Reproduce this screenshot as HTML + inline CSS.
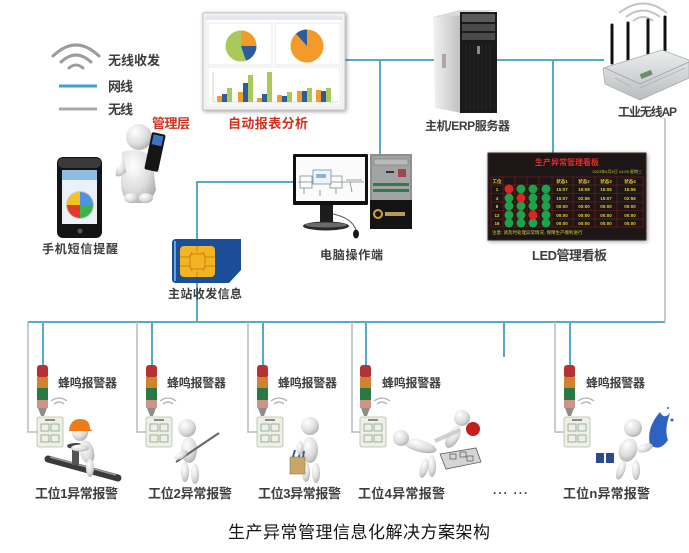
<!DOCTYPE html>
<html><head><meta charset="utf-8"><style>
html,body{margin:0;padding:0;background:#fff;}
svg{display:block;}
.t{font-family:"Liberation Sans","Noto Sans CJK SC",sans-serif;font-weight:700;fill:#3d3d3d;}
.r{fill:#d2301e;}
</style></head><body>
<svg width="689" height="553" viewBox="0 0 689 553" xmlns="http://www.w3.org/2000/svg">
<defs>
<radialGradient id="fg" cx="0.35" cy="0.3" r="0.8"><stop offset="0" stop-color="#ffffff"/><stop offset="0.6" stop-color="#dcdcdc"/><stop offset="1" stop-color="#a9a9a9"/></radialGradient>
<linearGradient id="side" x1="0" y1="0" x2="1" y2="0"><stop offset="0" stop-color="#f2f2f2"/><stop offset="1" stop-color="#bdbdbd"/></linearGradient>
<linearGradient id="apg" x1="0" y1="0" x2="0" y2="1"><stop offset="0" stop-color="#eceeee"/><stop offset="1" stop-color="#b9bdbd"/></linearGradient>
<filter id="sh" x="-10%" y="-10%" width="130%" height="130%"><feGaussianBlur in="SourceAlpha" stdDeviation="2"/><feOffset dx="1" dy="1"/><feComponentTransfer><feFuncA type="linear" slope="0.4"/></feComponentTransfer><feMerge><feMergeNode/><feMergeNode in="SourceGraphic"/></feMerge></filter>
</defs>
<rect width="689" height="553" fill="#fff"/>

<!-- ===== Network lines ===== -->
<g stroke="#55a9c9" stroke-width="2" fill="none">
<line x1="345" y1="60" x2="436" y2="60"/>
<line x1="497" y1="60" x2="604" y2="60"/>
<line x1="380" y1="60" x2="380" y2="154"/>
<line x1="553" y1="60" x2="553" y2="153"/>
<polyline points="293,182 197,182 197,240"/>
<line x1="197" y1="283" x2="197" y2="322"/>
<line x1="28" y1="322" x2="665" y2="322"/>
<line x1="43" y1="322" x2="43" y2="365"/>
<line x1="152" y1="322" x2="152" y2="365"/>
<line x1="263" y1="322" x2="263" y2="365"/>
<line x1="366" y1="322" x2="366" y2="365"/>
<line x1="504" y1="322" x2="504" y2="357"/>
<line x1="570" y1="322" x2="570" y2="365"/>
</g>
<g stroke="#b4bcc0" stroke-width="1.5" fill="none">
<line x1="665" y1="118" x2="665" y2="322"/>
<polyline points="28,322 28,432 37,432"/>
<polyline points="137,322 137,432 146,432"/>
<polyline points="248,322 248,432 257,432"/>
<polyline points="352,322 352,432 360,432"/>
<polyline points="555,322 555,432 564,432"/>
</g>

<!-- ===== Legend ===== -->
<g stroke="#9c9c9c" stroke-width="3" fill="none" stroke-linecap="round">
<path d="M53,56 Q76,34 99,56"/>
<path d="M61,62 Q76,48 91,62"/>
<path d="M69,68 Q76,62 83,68"/>
</g>
<text class="t" x="108" y="65" font-size="13" textLength="52">无线收发</text>
<line x1="59" y1="86" x2="97" y2="86" stroke="#3ea2cc" stroke-width="3"/>
<text class="t" x="108" y="91" font-size="13" textLength="25">网线</text>
<line x1="59" y1="109" x2="97" y2="109" stroke="#a8a8a8" stroke-width="3"/>
<text class="t" x="108" y="114" font-size="13" textLength="25">无线</text>

<!-- ===== Chart screenshot ===== -->
<g filter="url(#sh)">
<rect x="203" y="13" width="142" height="97" fill="#f3f4f4" stroke="#c4c4c4"/>
</g>
<rect x="206" y="16" width="136" height="91" fill="#fff" stroke="#d8d8d8" stroke-width="0.5"/>
<rect x="206" y="16" width="136" height="4" fill="#e4e8ee"/>
<rect x="208" y="23" width="64" height="42" fill="#fff" stroke="#ddd" stroke-width="0.6"/>
<rect x="275" y="23" width="65" height="42" fill="#fff" stroke="#ddd" stroke-width="0.6"/>
<rect x="208" y="67" width="132" height="38" fill="#fff" stroke="#ddd" stroke-width="0.6"/>
<!-- pie1 -->
<circle cx="241" cy="46" r="15.5" fill="#abc95a"/>
<path d="M241,46 L241,30.5 A15.5,15.5 0 0 1 256.5,46 Z" fill="#f39a2a"/>
<path d="M241,46 L256.5,46 A15.5,15.5 0 0 1 246,60.7 Z" fill="#2c5b9e"/>
<!-- pie2 -->
<circle cx="307" cy="46" r="16.5" fill="#f39a2a"/>
<path d="M307,46 L296,33.7 A16.5,16.5 0 0 1 307,29.5 Z" fill="#2c5b9e"/>
<!-- bars -->
<g>
<line x1="213" y1="102" x2="338" y2="102" stroke="#bbb" stroke-width="0.6"/>
<line x1="213" y1="72" x2="213" y2="102" stroke="#bbb" stroke-width="0.6"/>
<rect x="217" y="96" width="5" height="6" fill="#f39a2a"/><rect x="222" y="94" width="5" height="8" fill="#2c5b9e"/><rect x="227" y="88" width="5" height="14" fill="#abc95a"/>
<rect x="238" y="92" width="5" height="10" fill="#f39a2a"/><rect x="243" y="83" width="5" height="19" fill="#2c5b9e"/><rect x="248" y="75" width="5" height="27" fill="#abc95a"/>
<rect x="257" y="98" width="5" height="4" fill="#f39a2a"/><rect x="262" y="94" width="5" height="8" fill="#2c5b9e"/><rect x="267" y="72" width="5" height="30" fill="#abc95a"/>
<rect x="277" y="95" width="5" height="7" fill="#f39a2a"/><rect x="282" y="96" width="5" height="6" fill="#2c5b9e"/><rect x="287" y="92" width="5" height="10" fill="#abc95a"/>
<rect x="297" y="91" width="5" height="11" fill="#f39a2a"/><rect x="302" y="91" width="5" height="11" fill="#2c5b9e"/><rect x="307" y="88" width="5" height="14" fill="#abc95a"/>
<rect x="316" y="90" width="5" height="12" fill="#f39a2a"/><rect x="321" y="91" width="5" height="11" fill="#2c5b9e"/><rect x="326" y="88" width="5" height="14" fill="#abc95a"/>
</g>
<text class="t r" x="228" y="128" font-size="13" textLength="80">自动报表分析</text>

<!-- ===== Manager person ===== -->
<path d="M122,152 Q140,146 152,158 L156,190 Q150,204 140,203 L130,203 Q120,196 121,180 Z" fill="url(#fg)"/>
<path d="M124,160 Q114,168 116,176 Q120,178 126,172 Z" fill="url(#fg)"/>
<ellipse cx="131" cy="198" rx="7" ry="5" fill="url(#fg)"/>
<ellipse cx="146" cy="198" rx="7" ry="5" fill="url(#fg)"/>
<circle cx="139" cy="137" r="13" fill="url(#fg)"/>
<g transform="rotate(12 155 152)">
<rect x="148" y="133" width="14" height="38" rx="2" fill="#151515"/>
<rect x="150" y="135" width="10" height="10" fill="#3b74c4"/>
</g>
<text class="t r" x="152" y="128" font-size="13" textLength="38">管理层</text>

<!-- ===== Mobile phone ===== -->
<rect x="57" y="157" width="45" height="81" rx="6" fill="#141414"/>
<rect x="58" y="158" width="43" height="10" rx="5" fill="#3a3a3a"/>
<rect x="62" y="170" width="35" height="54" fill="#eaf2f8"/>
<rect x="62" y="170" width="35" height="10" fill="#8fbde0"/>
<circle cx="80" cy="205" r="14" fill="#c9c9c9"/>
<path d="M80,205 L80,192 A13,13 0 0 0 67,205 Z" fill="#f1c51e"/>
<path d="M80,205 L80,192 A13,13 0 0 1 93,205 Z" fill="#4f94df"/>
<path d="M80,205 L67,205 A13,13 0 0 0 80,218 Z" fill="#e23a2c"/>
<path d="M80,205 L93,205 A13,13 0 0 1 80,218 Z" fill="#3cb34b"/>
<circle cx="80" cy="231" r="2.5" fill="#555"/>
<text class="t" x="42" y="253" font-size="12" textLength="76">手机短信提醒</text>

<!-- ===== SIM card ===== -->
<path d="M172,243 Q172,239 176,239 L241,239 L241,270 L229,283 L176,283 Q172,283 172,279 Z" fill="#1c4e98"/>
<path d="M174,241 L176,241 L176,281 L174,281 Z" fill="#6aa0dc"/>
<rect x="180" y="246" width="35" height="31" rx="4" fill="#f4b320"/>
<g stroke="#c8861a" stroke-width="1" fill="none">
<path d="M180,257 L190,257 L192,252 M180,266 L190,266 L192,271 M215,257 L205,257 L203,252 M215,266 L205,266 L203,271 M197,246 L197,252 M197,277 L197,271"/>
<rect x="190" y="254" width="15" height="15" rx="2"/>
</g>
<text class="t" x="168" y="298" font-size="12" textLength="74">主站收发信息</text>

<!-- ===== Computer ===== -->
<rect x="293" y="154" width="75" height="51" rx="1" fill="#111"/>
<rect x="296" y="157" width="69" height="44" fill="#fbfbfb"/>
<g stroke="#7a8a8a" stroke-width="0.8" fill="none">
<path d="M298,182 L364,182 M300,176 L312,176 L312,188 L300,188 Z M330,176 L342,176 L342,188 L330,188 Z M346,180 L362,180"/>
<path d="M304,188 L304,194 M320,190 L320,196 M336,188 L336,194 M350,182 L352,192"/>
</g>
<rect x="313" y="170" width="18" height="14" fill="#eef4fa" stroke="#6890b0" stroke-width="0.8"/>
<rect x="316" y="174" width="10" height="4" fill="#8fb3d6"/>
<rect x="320" y="205" width="13" height="18" fill="#1c1c1c"/>
<ellipse cx="326" cy="226" rx="23" ry="4.5" fill="#2a2a2a"/>
<ellipse cx="326" cy="225" rx="21" ry="2.5" fill="#6a6a6a"/>
<path d="M333,214 Q352,218 356,230" stroke="#555" stroke-width="1" fill="none"/>
<ellipse cx="356" cy="234" rx="3" ry="4.5" fill="#1a1a1a"/>
<rect x="370" y="154" width="42" height="75" fill="#8e9090"/>
<rect x="372" y="156" width="38" height="44" fill="#a2a4a4"/>
<rect x="374" y="159" width="34" height="6" fill="#b9bbbb" stroke="#777" stroke-width="0.6"/>
<rect x="398" y="169" width="8" height="8" fill="#a04848"/>
<rect x="386" y="171" width="8" height="2" fill="#333"/>
<rect x="373" y="183" width="36" height="3" fill="#2f7a52"/>
<rect x="373" y="189" width="36" height="3" fill="#2f7a52"/>
<rect x="370" y="200" width="42" height="29" fill="#141414"/>
<circle cx="378" cy="214" r="4" fill="none" stroke="#d1a435" stroke-width="2"/>
<rect x="385" y="212" width="20" height="4" fill="#b89a56"/>
<text class="t" x="320" y="259" font-size="12" textLength="63">电脑操作端</text>

<!-- ===== Server tower ===== -->
<path d="M433,17 L460,10 L462,113 L435,108 Z" fill="url(#side)"/>
<path d="M433,17 L460,10 L497,10 L470,15 Z" fill="#d9d9d9"/>
<rect x="460" y="12" width="37" height="101" fill="#1a1a1a"/>
<rect x="462" y="14" width="33" height="8" fill="#5a5a5a"/>
<rect x="462" y="24" width="33" height="7" fill="#4a4a4a"/>
<rect x="462" y="33" width="33" height="7" fill="#4a4a4a"/>
<g stroke="#333" stroke-width="0.6">
<line x1="466" y1="44" x2="466" y2="110"/><line x1="470" y1="44" x2="470" y2="110"/><line x1="474" y1="44" x2="474" y2="110"/><line x1="478" y1="44" x2="478" y2="110"/><line x1="482" y1="44" x2="482" y2="110"/><line x1="486" y1="44" x2="486" y2="110"/><line x1="490" y1="44" x2="490" y2="110"/>
</g>
<rect x="477" y="46" width="3" height="8" fill="#8a8a8a"/>
<rect x="442" y="54" width="4" height="14" fill="#a8a8a8"/>
<text class="t" x="425" y="130" font-size="12" textLength="85">主机/ERP服务器</text>

<!-- ===== Wireless AP ===== -->
<g stroke="#c4c4c4" stroke-width="2" fill="none">
<path d="M619,13 Q643,-6 667,13"/>
<path d="M626,17 Q643,4 660,17"/>
<path d="M633,21 Q643,13 653,21"/>
</g>
<g stroke="#111" stroke-width="3" stroke-linecap="round">
<line x1="612" y1="25" x2="612" y2="63"/>
<line x1="628" y1="23" x2="628" y2="60"/>
<line x1="648" y1="20" x2="648" y2="54"/>
<line x1="665" y1="17" x2="665" y2="50"/>
</g>
<path d="M603,68 L662,50 L689,60 L689,78 L640,100 L605,84 Z" fill="url(#apg)" stroke="#a9adad" stroke-width="0.8"/>
<path d="M605,68 L640,84 L689,62" stroke="#9fa3a3" stroke-width="0.8" fill="none"/>
<g stroke="#a0a4a4" stroke-width="0.6">
<line x1="615" y1="78" x2="630" y2="86"/><line x1="640" y1="88" x2="685" y2="68"/>
</g>
<rect x="640" y="72" width="12" height="5" fill="#6a8e6a" transform="rotate(-22 646 74)"/>
<text class="t" x="618" y="116" font-size="12" textLength="59">工业无线AP</text>

<!-- ===== LED board ===== -->
<rect x="488" y="153" width="158" height="87" fill="#1c1512" stroke="#3a2a20" filter="url(#sh)"/>
<text x="567" y="165" font-size="8" font-weight="700" fill="#e82a2a" text-anchor="middle" font-family="Liberation Sans, Noto Sans CJK SC, sans-serif" textLength="64">生产异常管理看板</text>
<text x="642" y="173" font-size="4" fill="#c8c040" text-anchor="end" font-family="Liberation Sans, sans-serif">2023年6月6日 14:05 星期三</text>
<g stroke="#8a1c1c" stroke-width="0.6" fill="none">
<rect x="491" y="177" width="152" height="50"/>
<line x1="491" y1="185" x2="643" y2="185"/>
<line x1="491" y1="193.5" x2="643" y2="193.5"/><line x1="491" y1="202" x2="643" y2="202"/><line x1="491" y1="210.5" x2="643" y2="210.5"/><line x1="491" y1="219" x2="643" y2="219"/>
<line x1="503" y1="177" x2="503" y2="227"/><line x1="515" y1="177" x2="515" y2="227"/><line x1="527" y1="177" x2="527" y2="227"/><line x1="539" y1="177" x2="539" y2="227"/><line x1="552" y1="177" x2="552" y2="227"/><line x1="573" y1="177" x2="573" y2="227"/><line x1="595" y1="177" x2="595" y2="227"/><line x1="617" y1="177" x2="617" y2="227"/>
</g>
<g fill="#1fa04a">
<circle cx="521" cy="189" r="4.5"/><circle cx="533" cy="189" r="4.5"/><circle cx="546" cy="189" r="4.5"/>
<circle cx="509" cy="198" r="4.5"/><circle cx="533" cy="198" r="4.5"/><circle cx="546" cy="198" r="4.5"/>
<circle cx="509" cy="206" r="4.5"/><circle cx="521" cy="206" r="4.5"/><circle cx="533" cy="206" r="4.5"/><circle cx="546" cy="206" r="4.5"/>
<circle cx="509" cy="215" r="4.5"/><circle cx="521" cy="215" r="4.5"/><circle cx="546" cy="215" r="4.5"/>
<circle cx="509" cy="223" r="4.5"/><circle cx="521" cy="223" r="4.5"/><circle cx="533" cy="223" r="4.5"/><circle cx="546" cy="223" r="4.5"/>
</g>
<g fill="#e02424">
<circle cx="509" cy="189" r="4.5"/><circle cx="521" cy="198" r="4.5"/><circle cx="533" cy="215" r="4.5"/>
</g>
<g fill="#e0d040" font-size="4.5" font-family="Liberation Sans, sans-serif" text-anchor="middle" font-weight="700">
<text x="497" y="183">工位</text><text x="562" y="183">状态1</text><text x="584" y="183">状态2</text><text x="606" y="183">状态3</text><text x="630" y="183">状态4</text>
<text x="497" y="191">1</text><text x="562" y="191">15:07</text><text x="584" y="191">15:08</text><text x="606" y="191">15:05</text><text x="630" y="191">15:06</text>
<text x="497" y="200">4</text><text x="562" y="200">15:07</text><text x="584" y="200">02:56</text><text x="606" y="200">15:07</text><text x="630" y="200">02:56</text>
<text x="497" y="208">8</text><text x="562" y="208">00:00</text><text x="584" y="208">00:00</text><text x="606" y="208">00:00</text><text x="630" y="208">00:00</text>
<text x="497" y="217">12</text><text x="562" y="217">00:00</text><text x="584" y="217">00:00</text><text x="606" y="217">00:00</text><text x="630" y="217">00:00</text>
<text x="497" y="225">16</text><text x="562" y="225">00:00</text><text x="584" y="225">00:00</text><text x="606" y="225">00:00</text><text x="630" y="225">00:00</text>
</g>
<text x="492" y="234" font-size="4.5" fill="#d8c840" font-family="Liberation Sans, Noto Sans CJK SC, sans-serif">注意: 请及时处理异常情况, 保障生产顺利进行</text>
<text class="t" x="532" y="260" font-size="13" textLength="75">LED管理看板</text>

<!-- ===== Stations ===== -->
<!-- beacon + controller template drawn per station -->
<g id="st1">
<rect x="37" y="365" width="11" height="13" rx="3" fill="#b63232"/>
<rect x="37" y="377" width="11" height="11" fill="#d0822e"/>
<rect x="37" y="388" width="11" height="12" fill="#2a7842"/>
<rect x="37" y="400" width="11" height="8" fill="#cf9484"/>
<path d="M38,408 L47,408 L44,416 L41,416 Z" fill="#8e8e8e"/>
<rect x="37" y="417" width="26" height="30" rx="2" fill="#eef0e6" stroke="#b6b8ae" stroke-width="0.8"/>
<rect x="45" y="419" width="10" height="2" fill="#8a8a8a"/>
<g fill="none" stroke="#8aa08c" stroke-width="0.8"><rect x="41" y="424" width="8" height="7"/><rect x="51" y="424" width="8" height="7"/><rect x="41" y="435" width="8" height="7"/><rect x="51" y="435" width="8" height="7"/></g>
<g stroke="#b0b0b0" stroke-width="1.2" fill="none"><path d="M51,401 Q59,395 67,401"/><path d="M54,404 Q59,400 64,404"/></g>
</g>
<use href="#st1" x="109"/>
<use href="#st1" x="220"/>
<use href="#st1" x="323"/>
<use href="#st1" x="527"/>

<g class="t" font-size="12">
<text class="t" x="58" y="387" textLength="59">蜂鸣报警器</text>
<text class="t" x="167" y="387" textLength="59">蜂鸣报警器</text>
<text class="t" x="278" y="387" textLength="59">蜂鸣报警器</text>
<text class="t" x="382" y="387" textLength="59">蜂鸣报警器</text>
<text class="t" x="586" y="387" textLength="59">蜂鸣报警器</text>
</g>

<!-- station 1 figure -->
<line x1="48" y1="459" x2="118" y2="478" stroke="#3a3a3a" stroke-width="7" stroke-linecap="round"/>
<line x1="50" y1="457" x2="116" y2="475" stroke="#9a9a9a" stroke-width="1.5"/>
<rect x="72" y="447" width="7" height="18" fill="#555"/>
<ellipse cx="76" cy="446" rx="9" ry="3" fill="#444"/>
<ellipse cx="87" cy="452" rx="7" ry="12" fill="url(#fg)" transform="rotate(-15 87 452)"/>
<ellipse cx="90" cy="468" rx="4" ry="9" fill="url(#fg)"/>
<ellipse cx="80" cy="448" rx="9" ry="3.5" fill="url(#fg)"/>
<circle cx="80" cy="433" r="8" fill="url(#fg)"/>
<path d="M69,431 Q70,419 80,419 Q90,419 90,429 L93,431 Z" fill="#ee7a18"/>

<!-- station 2 figure -->
<ellipse cx="189" cy="450" rx="8" ry="13" fill="url(#fg)"/>
<ellipse cx="185" cy="472" rx="4" ry="10" fill="url(#fg)"/>
<ellipse cx="195" cy="474" rx="4" ry="10" fill="url(#fg)"/>
<line x1="176" y1="462" x2="219" y2="433" stroke="#666" stroke-width="2"/>
<ellipse cx="181" cy="455" rx="7" ry="3.5" fill="url(#fg)" transform="rotate(-30 181 455)"/>
<circle cx="187" cy="428" r="9" fill="url(#fg)"/>

<!-- station 3 figure -->
<ellipse cx="310" cy="450" rx="8" ry="13" fill="url(#fg)"/>
<ellipse cx="306" cy="472" rx="4" ry="10" fill="url(#fg)"/>
<ellipse cx="316" cy="473" rx="4" ry="10" fill="url(#fg)"/>
<rect x="290" y="457" width="15" height="17" fill="#c9a566" stroke="#9a7a40" stroke-width="0.6"/>
<path d="M293,457 L295,450 M299,457 L301,449 M303,457 L304,451" stroke="#3a5a9a" stroke-width="2"/>
<ellipse cx="300" cy="448" rx="3.5" ry="7" fill="url(#fg)"/>
<circle cx="310" cy="426" r="9" fill="url(#fg)"/>

<!-- station 4 figures -->
<path d="M440,454 L476,448 L481,462 L446,469 Z" fill="#d4d6d4" stroke="#5a5a5a" stroke-width="0.8"/>
<g stroke="#555" stroke-width="0.7" fill="none"><rect x="450" y="454" width="6" height="5"/><rect x="460" y="452" width="6" height="5"/><rect x="467" y="456" width="6" height="5"/></g>
<ellipse cx="420" cy="446" rx="17" ry="6" fill="url(#fg)" transform="rotate(15 420 446)"/>
<ellipse cx="432" cy="466" rx="4" ry="11" fill="url(#fg)"/>
<ellipse cx="424" cy="468" rx="4" ry="10" fill="url(#fg)" transform="rotate(15 424 468)"/>
<circle cx="401" cy="438" r="8" fill="url(#fg)"/>
<ellipse cx="453" cy="437" rx="6" ry="12" fill="url(#fg)" transform="rotate(30 453 437)"/>
<line x1="435" y1="441" x2="460" y2="430" stroke="#cfcfcf" stroke-width="4"/>
<circle cx="462" cy="418" r="8" fill="url(#fg)"/>
<circle cx="473" cy="429" r="7" fill="#c41e1e"/>

<!-- station n figure -->
<path d="M650,445 Q646,428 660,412 Q664,420 670,413 Q664,430 668,440 Q660,452 650,445 Z" fill="#2d62c2"/>
<circle cx="672" cy="420" r="1.5" fill="#2d62c2"/><circle cx="668" cy="408" r="1" fill="#2d62c2"/>
<ellipse cx="628" cy="450" rx="9" ry="12" fill="url(#fg)" transform="rotate(20 628 450)"/>
<ellipse cx="621" cy="470" rx="4" ry="10" fill="url(#fg)" transform="rotate(20 621 470)"/>
<ellipse cx="636" cy="470" rx="4" ry="10" fill="url(#fg)"/>
<ellipse cx="645" cy="448" rx="8" ry="4" fill="url(#fg)" transform="rotate(-20 645 448)"/>
<circle cx="633" cy="428" r="9" fill="url(#fg)"/>
<rect x="596" y="453" width="8" height="10" fill="#2b4a8c"/>
<rect x="606" y="453" width="8" height="10" fill="#2b4a8c"/>

<!-- station labels -->
<text class="t" x="35" y="498" font-size="13" textLength="83">工位1异常报警</text>
<text class="t" x="148" y="498" font-size="13" textLength="84">工位2异常报警</text>
<text class="t" x="258" y="498" font-size="13" textLength="83">工位3异常报警</text>
<text class="t" x="358" y="498" font-size="13" textLength="87">工位4异常报警</text>
<text class="t" x="493" y="497" font-size="12" textLength="35">··· ···</text>
<text class="t" x="563" y="498" font-size="13" textLength="87">工位n异常报警</text>

<!-- caption -->
<text x="228" y="538" font-size="17" fill="#151515" textLength="262" font-family="Liberation Sans, Noto Sans CJK SC, sans-serif">生产异常管理信息化解决方案架构</text>
</svg>
</body></html>
